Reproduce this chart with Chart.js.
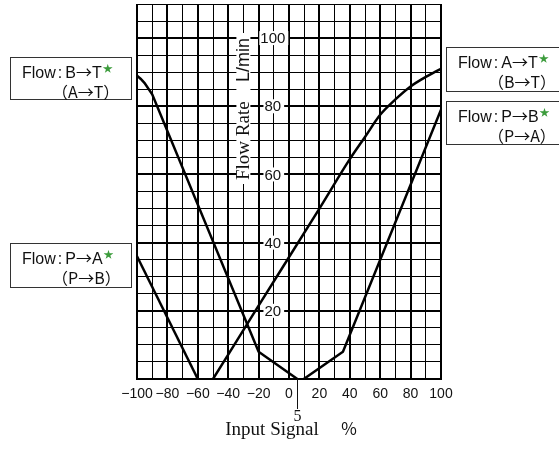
<!DOCTYPE html>
<html lang="en">
<head>
  <meta charset="UTF-8" />
  <title>Flow Rate vs Input Signal</title>
  <script src="https://cdn.jsdelivr.net/npm/chart.js"></script>
  <style>
    body {
      margin: 0;
      background: #fff;
      overflow: hidden;
    }

    .wrap {
      position: relative;
      width: 559px;
      height: 451px;
      overflow: hidden;
    }

    canvas {
      position: absolute;
      left: 0;
      top: 0;
    }

    .box {
      position: absolute;
      border: 1px solid #333;
      background: #fff;
      font-family: 'Liberation Sans', 'Noto Sans CJK JP', sans-serif;
      font-size: 16px;
      line-height: 19px;
      color: #111;
      padding-top: 1px;
      box-sizing: border-box;
    }

    .box .l1 { padding-left: 11px; white-space: nowrap; }
    .box .l2 { padding-left: 41px; white-space: nowrap; font-family: 'Noto Sans CJK JP', sans-serif; }
    .box .c { margin: 0 3px 0 2px; }
    .box .a { font-family: 'Noto Sans CJK JP', sans-serif; }

    .star {
      color: #3c9c3c;
      font-size: 10px;
      vertical-align: 6px;
      margin-left: 1px;
    }
  </style>
</head>
<body>
  <div class="wrap">
    <canvas id="chart" width="559" height="451"></canvas>

    <div class="box" style="left:10px; top:57px; width:122px; height:43px;">
      <div class="l1">Flow<span class="c">:</span>B<span class="a">→</span>T<span class="star">★</span></div>
      <div class="l2">（A→T）</div>
    </div>
    <div class="box" style="left:10px; top:243px; width:122px; height:45px;">
      <div class="l1">Flow<span class="c">:</span>P<span class="a">→</span>A<span class="star">★</span></div>
      <div class="l2">（P→B）</div>
    </div>
    <div class="box" style="left:446px; top:47px; width:130px; height:45px;">
      <div class="l1">Flow<span class="c">:</span>A<span class="a">→</span>T<span class="star">★</span></div>
      <div class="l2">（B→T）</div>
    </div>
    <div class="box" style="left:446px; top:101px; width:130px; height:44px;">
      <div class="l1">Flow<span class="c">:</span>P<span class="a">→</span>B<span class="star">★</span></div>
      <div class="l2">（P→A）</div>
    </div>
  </div>

  <script>
    // curve data (x = input signal %, y = flow L/min)
    const btX = [-100, -97.5, -95, -90, -20, 5.5];
    const btY = [89, 88, 86.8, 83.5, 8, 0];

    const paX = [-100, -60];
    const paY = [36, 0];

    const atX = [-50, -20, 20, 40, 50, 60, 70, 80, 90, 100];
    const atY = [0, 21.5, 50, 64.5, 71, 77.5, 82, 85.8, 88.6, 91];

    const pbX = [9.7, 35.5, 100];
    const pbY = [0, 8, 79];

    const yTickLabels = [20, 40, 60, 80, 100];
    const markerX = 5;

    const xTitle = 'Input Signal';
    const xUnit = '％';
    const yTitle = 'Flow Rate';
    const yUnit = 'L/min';

    const toPoints = (xs, ys) => xs.map((x, i) => ({ x: x, y: ys[i] }));

    const sans = "'Liberation Sans', sans-serif";
    const serif = "'Liberation Serif', 'DejaVu Serif', serif";

    // y labels, axis titles and the "5" marker drawn inside the plot
    const overlay = {
      id: 'overlay',
      beforeDatasetsDraw(chart) {
        const ctx = chart.ctx;
        const xs = chart.scales.x;
        const ys = chart.scales.y;
        const area = chart.chartArea;
        ctx.save();

        // y tick labels on the -10 gridline
        ctx.font = '15px ' + sans;
        ctx.textAlign = 'center';
        ctx.textBaseline = 'middle';
        const lx = xs.getPixelForValue(-10);
        yTickLabels.forEach(v => {
          const py = ys.getPixelForValue(v);
          const w = ctx.measureText(String(v)).width + 4;
          ctx.fillStyle = '#fff';
          ctx.fillRect(lx - w / 2, py - 7, w, 14);
          ctx.fillStyle = '#111';
          ctx.fillText(String(v), lx - 1, py + 1);
        });

        // y title, rotated, on the -30 gridline
        const tx = xs.getPixelForValue(-30);
        ctx.fillStyle = '#fff';
        ctx.fillRect(tx - 7, 33, 14, 151);
        ctx.translate(tx, 180);
        ctx.rotate(-Math.PI / 2);
        ctx.fillStyle = '#111';
        ctx.textAlign = 'left';
        ctx.font = '19px ' + serif;
        ctx.fillText(yTitle, 0, 1);
        ctx.font = '18px ' + sans;
        ctx.fillText(yUnit, 98, 1);
        ctx.setTransform(1, 0, 0, 1, 0, 0);

        // marker at 5 %
        const mx = xs.getPixelForValue(markerX);
        ctx.strokeStyle = '#111';
        ctx.lineWidth = 1;
        ctx.beginPath();
        ctx.moveTo(Math.round(mx) + 0.5, area.bottom);
        ctx.lineTo(Math.round(mx) + 0.5, area.bottom + 30);
        ctx.stroke();
        ctx.font = '16px ' + serif;
        ctx.textAlign = 'center';
        ctx.textBaseline = 'alphabetic';
        ctx.fillText(String(markerX), mx + 1, 421);

        // x title
        ctx.font = '19px ' + serif;
        ctx.fillText(xTitle, 272, 435);
        ctx.font = "17px 'Noto Sans CJK JP', sans-serif";
        ctx.fillText(xUnit, 349, 435);

        ctx.restore();
      }
    };

    const lineStyle = {
      borderColor: '#000',
      borderWidth: 2.5,
      pointRadius: 0,
      showLine: true,
      fill: false
    };

    new Chart(document.getElementById('chart'), {
      type: 'scatter',
      data: {
        datasets: [
          Object.assign({ label: 'B→T', data: toPoints(btX, btY), tension: 0 }, lineStyle),
          Object.assign({ label: 'P→A', data: toPoints(paX, paY), tension: 0 }, lineStyle),
          Object.assign({ label: 'A→T', data: toPoints(atX, atY), cubicInterpolationMode: 'monotone' }, lineStyle),
          Object.assign({ label: 'P→B', data: toPoints(pbX, pbY), tension: 0 }, lineStyle)
        ]
      },
      options: {
        responsive: false,
        animation: false,
        devicePixelRatio: 1,
        layout: { padding: { left: 137, right: 118, top: 4, bottom: 0 } },
        plugins: {
          legend: { display: false },
          tooltip: { enabled: false }
        },
        scales: {
          x: {
            type: 'linear',
            min: -100,
            max: 100,
            afterFit: s => { s.height = 72; },
            border: { color: '#000', width: 2 },
            grid: {
              color: '#000',
              drawTicks: false,
              lineWidth: c => (c.tick && c.tick.value % 20 === 0 ? 2 : 1)
            },
            ticks: {
              stepSize: 10,
              autoSkip: false,
              maxRotation: 0,
              padding: 7,
              color: '#111',
              font: { family: sans, size: 14 },
              callback: v => (v % 20 === 0 ? (v < 0 ? '−' + Math.abs(v) : String(v)) : '')
            }
          },
          y: {
            min: 0,
            max: 110,
            afterFit: s => { s.width = 0; },
            border: { color: '#000', width: 1 },
            grid: {
              color: '#000',
              drawTicks: false,
              lineWidth: c => (c.tick && c.tick.value % 20 === 0 ? 2 : 1)
            },
            ticks: { stepSize: 5, display: false }
          }
        }
      },
      plugins: [overlay]
    });
  </script>
</body>
</html>
